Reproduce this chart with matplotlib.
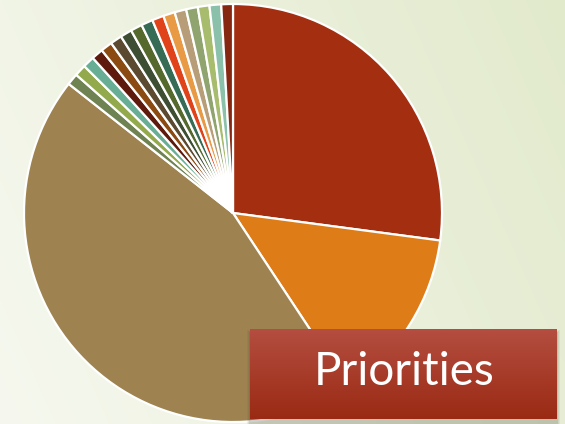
import numpy as np
import matplotlib.pyplot as plt
from matplotlib.patches import Rectangle

# Anteile der Segmente (im Uhrzeigersinn ab 12 Uhr)
big_values = [27.1, 13.6, 44.9]
big_colors = ['#a32e10', '#de7d18', '#9e8250']
small_values = [0.9] * 16
small_colors = ['#6e8252', '#93aa4c', '#68ae94', '#5e1a0c', '#8a4a12', '#5b4a30',
                '#3e4e32', '#55692c', '#366b55', '#e0421a', '#e99a44', '#b89e78',
                '#8fa46f', '#a8bc6e', '#8bc1aa', '#862712']
title = 'Priorities'

W, H = 565, 424
fig = plt.figure(figsize=(W / 100, H / 100), dpi=100)
ax = fig.add_axes([0, 0, 1, 1])

# Hintergrund: Verlauf hell links -> gruenlich rechts
x = np.linspace(0, 1, 200)
y = np.linspace(0, 1, 150)
X, Y = np.meshgrid(x, y)
t = np.clip(0.75 * X + 0.25 * (1 - Y), 0, 1)
c0 = np.array([0xf6, 0xf8, 0xef]) / 255
c1 = np.array([0xe2, 0xea, 0xcc]) / 255
img = c0 + (c1 - c0) * t[..., None]
ax.imshow(img, extent=[0, W, 0, H], origin='upper', aspect='auto', zorder=0)

values = big_values + small_values
colors = big_colors + small_colors
ax.pie(values, colors=colors, startangle=90, counterclock=False,
       center=(233, H - 213), radius=209, frame=True,
       wedgeprops=dict(edgecolor='white', linewidth=1.6))
ax.set_xlim(0, W)
ax.set_ylim(0, H)
ax.set_aspect('auto')
ax.axis('off')

# Titelbox mit Schatten und Verlauf
bx0, bx1, by0, by1 = 250, 557, H - 419, H - 329
for i, a in enumerate([0.07, 0.09, 0.12]):
    d = 3 - i
    ax.add_patch(Rectangle((bx0 - d, by0 - 4 - d), bx1 - bx0 + 2 * d, by1 - by0 + 2 * d,
                           color='#4a4a3a', alpha=a, lw=0, zorder=3))
grad = np.linspace(0, 1, 100)[:, None]
top = np.array([0xb4, 0x4e, 0x40]) / 255
bot = np.array([0x9a, 0x2a, 0x14]) / 255
box = top + (bot - top) * grad[..., None]
box = np.repeat(box, 2, axis=1)
ax.imshow(box, extent=[bx0, bx1, by0, by1], origin='upper', aspect='auto', zorder=4)

ax.text((bx0 + bx1) / 2 + 0.5, (by0 + by1) / 2 + 2, title, color='white',
        fontsize=33, family='Lato', fontweight='normal', ha='center', va='center', zorder=5)

fig.savefig('out.png', dpi=100)
